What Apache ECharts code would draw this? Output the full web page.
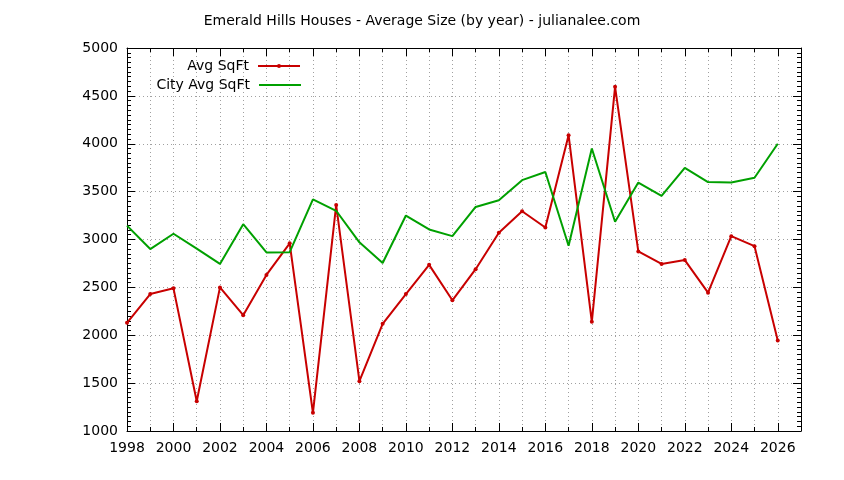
<!DOCTYPE html>
<html>
<head>
<meta charset="utf-8">
<script src="https://cdn.jsdelivr.net/npm/echarts@6/dist/echarts.min.js"></script>
<style>
	html, body { margin: 0; padding: 0; background: #fff; }
	#chart { width: 844px; height: 480px; }
</style>
</head>
<body>
<div id="chart"></div>
<script>
	// 年份及数据
	var years = [1998, 1999, 2000, 2001, 2002, 2003, 2004, 2005, 2006, 2007, 2008, 2009, 2010, 2011, 2012,
		2013, 2014, 2015, 2016, 2017, 2018, 2019, 2020, 2021, 2022, 2023, 2024, 2025, 2026];
	var avgSqFt = [2130, 2430, 2490, 1310, 2500, 2210, 2630, 2960, 1190, 3360, 1520, 2120, 2430, 2735, 2365,
		2690, 3070, 3295, 3125, 4090, 2140, 4595, 2875, 2745, 2785, 2445, 3035, 2930, 1945];
	var cityAvgSqFt = [3145, 2900, 3060, 2905, 2745, 3160, 2865, 2868, 3420, 3300, 2970, 2755, 3250, 3105, 3035,
		3340, 3410, 3620, 3705, 2935, 3950, 3185, 3595, 3455, 3748, 3600, 3595, 3645, 4000];

	var fontName = 'DejaVu Sans';
	var gridLine = { show : true, lineStyle : { color : '#a0a0a0', type : [1, 3], width : 1 } };

	function pairs(xs, ys) {
		var arr = [];
		for ( var i = 0; i < xs.length; i++) {
			arr.push([xs[i], ys[i]]);
		}
		return arr;
	}

	function xAxisDef(pos, showLabel) {
		return {
			type : 'value',
			position : pos,
			min : 1998,
			max : 2027,
			interval : 2,
			axisLine : { show : true, lineStyle : { color : '#000', width : 1 } },
			axisTick : { show : true, inside : true, length : 8, lineStyle : { color : '#000' } },
			minorTick : { show : true, splitNumber : 2, length : 4, lineStyle : { color : '#000' } },
			splitLine : showLabel ? gridLine : { show : false },
			minorSplitLine : showLabel ? gridLine : { show : false },
			axisLabel : {
				show : showLabel,
				showMaxLabel : false,
				color : '#000',
				fontFamily : fontName,
				fontSize : 14,
				margin : 10,
				formatter : function(v) { return String(v); }
			}
		};
	}

	function yAxisDef(pos, showLabel) {
		return {
			type : 'value',
			position : pos,
			min : 1000,
			max : 5000,
			interval : 500,
			axisLine : { show : true, lineStyle : { color : '#000', width : 1 } },
			axisTick : { show : true, inside : true, length : 8, lineStyle : { color : '#000' } },
			minorTick : { show : true, splitNumber : 10, length : 4, lineStyle : { color : '#000' } },
			splitLine : showLabel ? gridLine : { show : false },
			minorSplitLine : { show : false },
			axisLabel : {
				show : showLabel,
				color : '#000',
				fontFamily : fontName,
				fontSize : 14,
				margin : 9,
				formatter : function(v) { return String(v); }
			}
		};
	}

	var myChart = echarts.init(document.getElementById('chart'), null, { renderer : 'canvas' });
	var option = {
		animation : false,
		backgroundColor : '#fff',
		title : {
			text : 'Emerald Hills Houses - Average Size (by year) - julianalee.com',
			left : 'center',
			top : 9,
			textStyle : { color : '#000', fontFamily : fontName, fontSize : 14, fontWeight : 'normal' }
		},
		legend : [ {
			data : [ 'Avg SqFt' ],
			right : 538,
			top : 54,
			align : 'right',
			itemWidth : 42,
			itemHeight : 5,
			textStyle : { color : '#000', fontFamily : fontName, fontSize : 14, padding : [0, 4, 0, 0] }
		}, {
			data : [ { name : 'City Avg SqFt', icon : 'rect' } ],
			right : 538,
			top : 73,
			align : 'right',
			itemWidth : 42,
			itemHeight : 2,
			textStyle : { color : '#000', fontFamily : fontName, fontSize : 14, padding : [0, 4, 0, 0] }
		} ],
		grid : { left : 127, right : 43, top : 48, bottom : 49 },
		xAxis : [ xAxisDef('bottom', true), xAxisDef('top', false) ],
		yAxis : [ yAxisDef('left', true), yAxisDef('right', false) ],
		series : [ {
			name : 'Avg SqFt',
			type : 'line',
			data : pairs(years, avgSqFt),
			symbol : 'circle',
			symbolSize : 4,
			showSymbol : true,
			itemStyle : { color : '#c80000' },
			lineStyle : { color : '#c80000', width : 2 }
		}, {
			name : 'City Avg SqFt',
			type : 'line',
			data : pairs(years, cityAvgSqFt),
			symbol : 'none',
			itemStyle : { color : '#00a000' },
			lineStyle : { color : '#00a000', width : 2 }
		} ]
	};
	myChart.setOption(option, true);
</script>
</body>
</html>
